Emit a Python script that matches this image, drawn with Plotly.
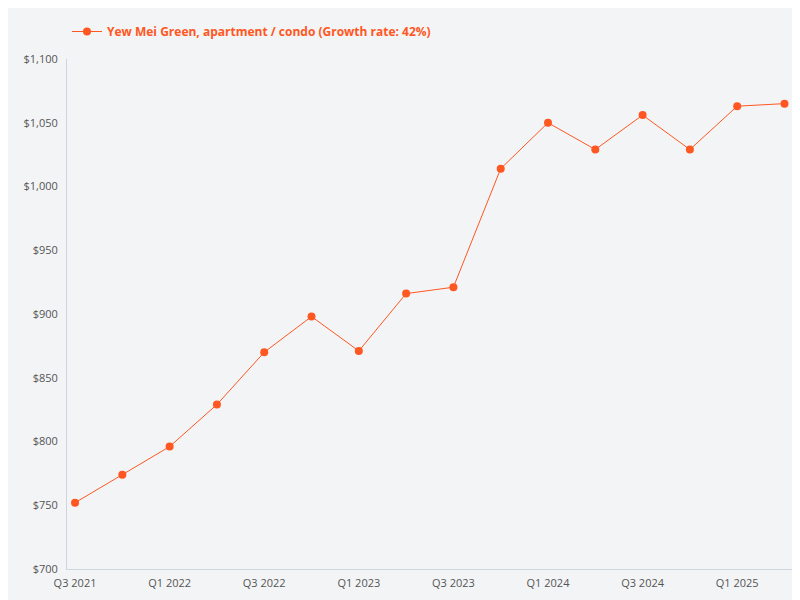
import plotly.graph_objects as go

quarters = ["Q3 2021","Q4 2021","Q1 2022","Q2 2022","Q3 2022","Q4 2022","Q1 2023","Q2 2023",
            "Q3 2023","Q4 2023","Q1 2024","Q2 2024","Q3 2024","Q4 2024","Q1 2025","Q2 2025"]
prices = [752,774,796,829,870,898,871,916,921,1014,1050,1029,1056,1029,1063,1065]
series_name = "<b>Yew Mei Green, apartment / condo (Growth rate: 42%)</b>"
tick_labels = ["Q3 2021","Q1 2022","Q3 2022","Q1 2023","Q3 2023","Q1 2024","Q3 2024","Q1 2025"]

color = "#ff5722"
fig = go.Figure(go.Scatter(x=quarters, y=prices, mode="lines+markers", name=series_name,
                           line=dict(color=color, width=1), marker=dict(color=color, size=8)))
fig.update_layout(
    width=800, height=600, paper_bgcolor="#f3f4f6", plot_bgcolor="#f3f4f6",
    font=dict(family="Open Sans", size=11, color="#555"),
    margin=dict(l=59, r=15, t=51, b=39, autoexpand=False),
    showlegend=True,
    legend=dict(x=0.0, y=0.985, xref="paper", yref="container", xanchor="left", yanchor="top",
                orientation="h", bgcolor="rgba(0,0,0,0)",
                font=dict(color=color, size=12, family="Open Sans"), itemwidth=30),
)
fig.update_xaxes(type="category", range=[-0.17, 15.18], tickmode="array", tickvals=tick_labels,
                 ticktext=tick_labels, showgrid=False, showline=True, linecolor="#cdd5df",
                 ticks="outside", ticklen=4, tickcolor="rgba(0,0,0,0)", zeroline=False,
                 automargin=False)
fig.update_yaxes(range=[700, 1100], dtick=50, tickprefix="$", tickformat=",", showgrid=False,
                 showline=True, linecolor="#cdd5df", zeroline=False, automargin=False,
                 ticks="outside", ticklen=6, tickcolor="rgba(0,0,0,0)")
fig.write_html("out.html")
